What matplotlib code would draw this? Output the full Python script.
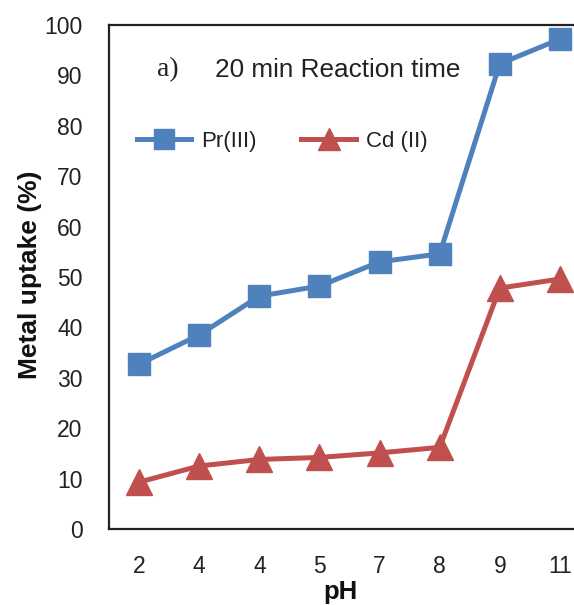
import matplotlib
matplotlib.use("Agg")
import matplotlib.pyplot as plt
import numpy as np

ph_labels = ["2", "4", "4", "5", "7", "8", "9", "11"]
pr_values = [32.7, 38.5, 46.2, 48.2, 53.0, 54.6, 92.3, 97.2]
cd_values = [9.3, 12.5, 13.8, 14.2, 15.1, 16.2, 47.8, 49.6]

fig = plt.figure(figsize=(5.74, 6.05), dpi=100)
W, H = 574, 605
left, right, top, bottom = 109, 590, 25, 529
ax = fig.add_axes([left / W, 1 - bottom / H, (right - left) / W, (bottom - top) / H])

x = np.arange(len(ph_labels))
blue = "#4F81BD"
red = "#C0504D"
ax.plot(x, pr_values, color=blue, lw=3.6, marker="s", ms=16.5, label="Pr(III)", clip_on=False)
ax.plot(x, cd_values, color=red, lw=3.6, marker="^", ms=19, label="Cd (II)", clip_on=False)

ax.set_xlim(-0.5, len(ph_labels) - 0.5)
ax.set_ylim(0, 100)
ax.set_yticks(np.arange(0, 101, 10))
ax.set_xticks(x)
ax.set_xticklabels(ph_labels)
ax.tick_params(axis="both", length=0, labelsize=16.5, colors="#222222")
ax.tick_params(axis="x", pad=19)
ax.tick_params(axis="y", pad=19)
for lab in ax.get_xticklabels() + ax.get_yticklabels():
    lab.set_family("Liberation Sans")

for s in ["left", "top", "bottom"]:
    ax.spines[s].set_linewidth(1.6)
    ax.spines[s].set_color("#222222")
ax.spines["right"].set_visible(False)

fig.text(30 / W, 1 - 275 / H, "Metal uptake (%)", fontsize=19, fontweight="bold",
         family="Liberation Sans", rotation=90, ha="center", va="center", color="#111111")
fig.text(340 / W, 1 - 592 / H, "pH", fontsize=18.5, fontweight="bold", family="Liberation Sans",
         ha="center", va="center", color="#111111")

fig.text(157 / W, 1 - 70 / H, "a)", fontsize=20, family="Liberation Serif", ha="left", va="center",
         color="#222222")
fig.text(215 / W, 1 - 70 / H, "20 min Reaction time", fontsize=18.8, family="Liberation Sans",
         ha="left", va="center", color="#222222")

leg = ax.legend(loc="center left", bbox_to_anchor=(28 / (right - left), 1 - 116 / (bottom - top)),
                ncol=2, frameon=False, prop={"family": "Liberation Sans", "size": 16},
                handlelength=2.45, columnspacing=2.0, handletextpad=0.45, markerscale=0.85,
                borderaxespad=0, borderpad=0)
for t in leg.get_texts():
    t.set_color("#222222")

fig.savefig("out.png", dpi=100)
